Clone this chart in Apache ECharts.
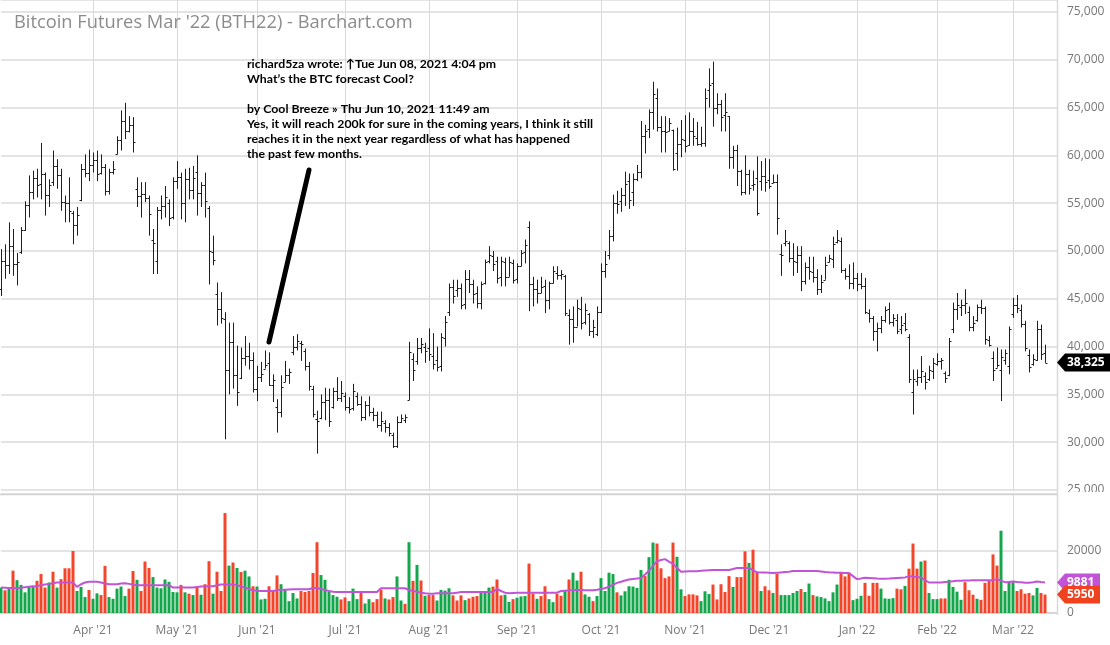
<!DOCTYPE html>
<html><head><meta charset="utf-8">
<script src="https://cdn.jsdelivr.net/npm/echarts@6/dist/echarts.min.js"></script>
<style>html,body{margin:0;padding:0;background:#fff}#c{width:1110px;height:645px}</style>
</head><body><div id="c"></div>
<script>
// ---------- calendar (CME trading days) ----------
const firstDay = '2021-03-01';
const lastDay = '2022-03-11';
const holidays = ['2021-04-02','2021-05-31','2021-07-05','2021-09-06','2021-11-25','2021-12-24','2022-01-17','2022-02-21'];
function tradingDays(a, b) {
  const out = [];
  const d = new Date(a + 'T00:00:00Z'), e = new Date(b + 'T00:00:00Z');
  while (d <= e) {
    const s = d.toISOString().slice(0, 10), w = d.getUTCDay();
    if (w !== 0 && w !== 6 && holidays.indexOf(s) < 0) out.push(s);
    d.setUTCDate(d.getUTCDate() + 1);
  }
  return out;
}
const dates = tradingDays(firstDay, lastDay);
const padSlots = 3;

// ---------- price bars (OHLC) ----------
const open = [46000,49000,48500,50500,48600,49900,52200,54800,56200,57600,57000,58000,55900,57200,58900,57900,55100,55000,54000,52700,
55300,58600,58200,59000,59500,58200,58800,56300,58300,60100,61600,63600,62600,63200,56500,55700,56000,55500,51200,49000,
54300,54700,55000,53600,57300,57700,55000,57500,56400,58300,56100,56900,54500,49900,45500,43900,42900,37500,40500,37000,
36700,38800,39000,38600,35600,36800,37700,38300,36000,33700,33200,36300,37000,39400,40000,40400,39500,38000,35600,32400,
32500,34200,34400,33700,35400,34600,34800,33700,33600,34800,34000,32600,33900,33200,32800,31800,32000,31600,30800,29600,
32100,32300,34400,38700,38500,39900,40000,39900,39000,38600,38000,40900,43600,46200,45900,46100,44500,47100,46500,45600,
44600,46600,49000,49500,49000,47300,48800,47300,48700,47100,48400,49900,52500,46500,46000,45600,46300,44900,46600,47700,
47500,47400,43300,42900,42100,43900,42600,43400,41600,41300,43600,47900,49600,51600,55000,55200,55900,57300,56200,57500,
58300,62000,62800,64500,66000,63000,62500,62600,62700,60200,61200,61600,61100,62600,61800,61200,61300,66800,67600,65000,
65400,64200,64100,59800,60600,58400,56200,58000,56900,57600,57300,57800,57400,57100,57200,49700,50800,50800,49300,48800,
49600,46900,48300,47800,47300,46000,47000,48800,49200,50900,51000,48000,47400,46600,47200,46500,46300,43500,43000,41600,
41900,42800,43900,42600,42800,41800,42500,41000,35200,36400,36800,36900,36600,37400,38200,38500,37200,37000,41800,43900,
44100,44300,43600,42000,42800,44100,44000,40700,38800,37800,37500,38600,38000,43400,44400,43800,42400,39100,38200,38600,
41800,39300];
const high = [50200,50700,53000,52300,49800,52500,55200,57900,58400,58600,61300,58200,57500,60500,59600,58600,55800,57700,54200,54600,
59100,60100,60600,60300,60500,60100,59100,58600,59400,62000,64700,65500,64100,64000,57700,57200,57200,55800,52300,54600,
55800,56800,55400,57700,59400,58200,58600,58700,58900,60000,57200,58200,54700,51600,46700,45700,43600,42500,42500,40100,
39900,41100,40400,39400,38000,38400,39600,39400,37100,34500,37000,38500,37700,41100,41300,40600,39800,38400,35900,33300,
35000,35700,35600,35700,36800,36400,35200,34700,36100,35200,34800,34300,34800,33600,33200,33200,32300,32000,31000,32700,
32900,32900,40500,39300,40900,40900,40400,41900,41400,40000,41400,43200,46600,47000,47000,46600,48000,48000,47000,46300,
46800,49100,50500,50000,49400,49400,49300,49400,49100,48700,50100,51200,53100,47300,47000,47300,47000,46800,48400,48400,
48000,47500,43900,44200,44900,45200,44500,43500,42800,44200,48700,50000,52200,55900,56300,56600,58300,58100,58100,59000,
63600,63200,64800,67700,67000,64100,64100,63900,62700,62900,63700,64200,64500,63900,63500,63000,67000,69100,69800,66500,
65800,66500,64100,61000,61100,58500,60000,58500,58400,59900,59400,59700,59600,58000,58000,50700,52200,51000,50800,50500,
50500,48800,49400,49400,48100,47500,49400,49600,51500,52200,51400,48200,48600,48800,47700,47700,47200,43900,43200,42500,
43200,44200,44600,43400,43400,43200,43500,41300,37600,37600,39000,37300,38000,38800,39300,38800,37400,40900,44600,45600,
44900,46000,44200,43200,44400,44900,44200,41100,39500,39900,39700,39700,42100,45100,45400,44400,42700,39700,39200,42700,
42300,40200];
const low = [45300,47100,47600,47400,46400,49700,52100,53500,55400,55600,55400,53700,54600,56800,56500,54200,53000,53000,50700,51600,
55200,57700,57300,58200,57300,58000,55800,55900,58000,60100,60500,61700,62400,60300,54600,53500,55100,51600,47600,47600,
53300,53500,52600,53300,56500,53300,53000,55400,55400,53700,54600,53500,46500,48500,42200,42400,30300,35000,35600,33800,
36600,38000,37600,35200,34300,36300,37700,35900,34200,31000,32600,36300,36100,39100,39600,38500,37500,35400,32600,28800,
32400,32300,31600,33500,34300,34200,33300,33000,33300,33800,32200,32300,32700,32200,31500,31100,31000,30600,29400,29400,
32000,32000,34400,36400,38100,39300,38300,38500,37600,37400,37400,40000,43200,44500,45200,43900,43900,45600,44500,44000,
43900,46500,48700,47900,46600,46300,46300,47300,46600,46600,48400,48700,43700,44200,44500,45600,43500,43900,46600,47000,
47000,43200,40200,40400,42100,41800,42300,41100,40900,41100,43500,47200,49100,51000,53900,54100,54700,54400,54700,57300,
57600,60200,61800,62700,62500,60300,60300,62500,58400,58400,59800,60300,61000,61000,61000,60900,60900,65000,63000,64300,
62500,62500,58600,58600,56800,55800,55900,55900,56300,53700,56300,56200,56500,57100,51700,47400,50500,48800,47400,47700,
45800,46500,47000,46700,45400,45600,47000,48800,48200,50800,47700,47000,46000,46000,45800,46000,43400,42500,40600,39500,
41400,42500,42300,42100,41300,41300,41600,36200,32900,35900,36200,35500,36400,36600,38000,37600,36200,36900,41400,42800,
43200,43400,41600,41600,42600,43400,40200,40000,36400,37800,34300,38100,37100,43000,43500,42000,39500,37300,38000,38500,
38600,38300];
const close = [49000,48500,50500,48600,48800,52200,54800,56200,57600,56900,58000,55900,56900,58900,57900,55100,55000,54200,52700,53800,
58600,58200,59000,59500,58000,58800,56300,58300,58600,61600,63600,62600,63200,61400,55700,56000,55500,53900,50800,54300,
54700,55600,53500,57300,57700,55000,57500,56400,57600,56100,56900,55200,50000,49100,43900,43000,37500,40500,37000,35200,
38800,39000,38600,35600,36800,37100,38100,36000,36500,33200,35800,37000,37300,40000,40600,40300,38000,35900,32900,32200,
34200,34400,32200,35400,34600,35100,33700,33500,35400,34000,32600,33900,33200,32800,31800,32200,31600,31000,29600,32100,
32500,32600,39400,37500,39900,40300,39500,39200,38200,37900,41000,42600,46200,45300,46100,44300,47100,46500,45500,44600,
46500,48800,49600,48600,47200,48900,47300,48800,47000,48400,49800,50600,46500,46000,45600,46200,44900,46600,47900,47500,
47600,43500,42900,42000,44000,42500,43800,41600,42100,43600,47900,48600,51600,55000,54900,55900,57000,55300,57500,58300,
62000,62600,64500,66400,63000,62500,62400,63400,58600,61200,61700,61000,62600,62000,61200,61300,66000,67400,65000,65400,
64000,64500,59800,60600,58400,56200,58000,56600,57000,54000,57800,57200,56800,57200,53500,49600,51000,49300,48900,49600,
46900,48300,47900,47300,46000,46800,48500,49300,50700,51200,48000,47400,46600,47200,46500,46300,43600,43000,41600,41900,
42800,43800,42600,43000,41600,42300,41800,36600,36600,36800,37400,36300,37500,38300,38500,38600,36700,40600,43900,44400,
44300,44600,42000,42500,44100,44000,40800,40200,37600,38100,38900,39300,41800,44400,44000,42400,39900,37900,38700,41800,
39200,38325];

// ---------- volume ----------
const volume = [8200,7320,7980,13660,10600,9070,6670,8420,8630,10380,12570,8200,9840,13330,8200,10930,14430,14430,20000,7100,
8420,5140,7430,4590,6340,5790,15190,5140,4590,7870,8530,5470,7870,13550,10710,7100,16610,14540,11590,8200,
7980,10820,10060,6780,6670,9070,6670,6230,5790,8630,5900,9290,16720,6230,13330,7100,32240,15300,16290,14540,
13230,13660,11800,8630,8530,4370,4590,8630,7100,12130,9290,7650,3830,6450,4700,7100,6780,7100,12900,22840,
12240,10710,6780,5790,5250,4370,5030,3830,7870,4480,6450,3060,4480,3500,4480,7540,4700,4370,5140,11800,
4040,2950,22840,10380,15520,10490,5570,5790,5790,4040,7430,7210,7980,5680,4040,5680,4150,4700,5250,5470,
6780,6780,8200,8530,10820,5680,5900,3610,4480,4920,5360,5470,15960,6230,4590,5470,8630,4480,3500,6230,
5570,7430,10820,13010,10490,13330,6010,5250,3830,5470,11260,7100,13010,12570,6670,5680,7000,8630,8530,8090,
13880,11910,18030,22730,22410,14430,11260,11800,22730,18140,7650,5470,6010,6010,5680,3830,7000,6120,9180,4370,
9290,6780,11910,8420,11590,11590,19890,16180,20440,13330,7100,8630,7320,6450,12680,5790,5790,5790,6450,7100,
7760,6780,9510,5790,5360,5140,4700,3830,6670,9180,12900,11800,12900,4150,4590,5570,9730,5570,9730,9730,
7870,4700,4590,4810,7870,7650,8740,14320,22410,14320,16610,16940,6450,4480,4480,4700,4700,10710,8420,6890,
4260,9950,7320,5900,4590,4260,9730,10380,18910,15300,26560,7100,10270,9950,7100,7650,6230,6450,5680,8090,
6450,5950];
// G = up day (green), R = down day (red)
const volumeDir = ('GRGRGGGGGR'+'RRGRGRRRRG'+'GGRGGRRGGG'+'GGRRGRRRGG'+'GGGGGRGRGR'+'GRRGRRRGRG'+'RGGRGGGRRR'+'GGGGGRRRRR'+
'GGGGGRRGGG'+'RGGRRRGRRG'+'GRGRGRGRRG'+'GGGRRRGRRR'+'GGGRRRGGRG'+'GGRRGRRGGR'+'RGRGGRGGRG'+'GGGGRGGGGG'+
'GRGGRRRRRG'+'GRRRRGGGRR'+'RRRGRRRGRR'+'GRRGRGGGGG'+'RGGRGGGGGG'+'RRRGGGRRRR'+'GGGGRRGRRR'+'GRGGGRRGGG'+
'GRRRGRRRRR'+'GGGGRRRRGG'+'RR').split('');
const volumeMA = [8200,8150,8100,8050,7980,8150,8300,8450,8600,8740,8960,9180,9400,9620,9840,9840,9840,9840,9840,8420,
9290,9840,10060,10060,10060,9840,9510,9290,9290,9290,9510,9620,9400,9180,8960,8960,8960,8960,8960,8960,
8960,8960,8960,8200,8200,8200,8200,8200,8200,8420,8530,8630,8630,8630,8960,9180,9180,9180,9180,8960,
8630,8200,7760,7320,7210,7100,7100,7100,7100,7320,7540,7540,7600,7650,7650,7650,7650,7650,8090,8090,
7760,7430,7100,6890,6780,6780,6780,6780,6780,6780,6780,6780,6780,6780,6780,7980,7980,7980,7980,7980,
7980,7980,7430,7100,6890,6560,6340,6230,6230,6340,6340,6340,6340,6340,6560,6780,6780,6780,6780,6780,
6780,6780,6780,6780,7760,7100,6560,6340,6450,6560,6560,6560,6560,6560,6560,6560,6560,6560,6560,6560,
7100,7200,7300,7400,7430,7400,7350,7320,7320,7500,7760,7980,8500,9100,9730,10100,10500,10820,11000,11100,
11260,12400,13660,15200,16720,17100,17380,16600,15850,14600,13330,13400,13440,13440,13500,13600,13700,13800,13880,13880,
13880,13880,13880,14200,14540,14540,14540,14540,13800,13120,13100,13050,13000,12900,13000,13100,13200,13300,13550,13550,
13550,13550,13550,13550,13550,13400,13250,13120,13100,13000,12950,12900,12900,11900,10930,11100,11370,11300,11200,11100,
11040,11040,11100,11200,11300,11400,11480,11910,11700,11600,11480,10600,9840,9840,9840,9840,10000,10100,10250,10380,
10420,10460,10500,10550,10600,10600,10600,10600,10600,10930,10400,9950,10000,10160,10000,9900,9800,9730,9900,10160,
10000,9881];

// ---------- axes ----------
const priceMin = 25000, priceMax = 76250, priceStep = 5000, priceTop = 75000;
const volMax = 38400, volStep = 20000;
const monthNames = ['Jan','Feb','Mar','Apr','May','Jun','Jul','Aug','Sep','Oct','Nov','Dec'];

// ---------- annotation (drawn trend stroke, in data space: bar index, price) ----------
const annotationLine = [[67.25, 40480], [76.5, 58470]];
const annotationText = [
  'richard5za wrote: \u2191Tue Jun 08, 2021 4:04 pm',
  'What\u2019s the BTC forecast Cool?',
  '',
  'by Cool Breeze \u00bb Thu Jun 10, 2021 11:49 am',
  'Yes, it will reach 200k for sure in the coming years, I think it still',
  'reaches it in the next year regardless of what has happened',
  'the past few months.'
];
const titleText = "Bitcoin Futures Mar '22 (BTH22) - Barchart.com";

// ---------- build ----------
const cats = dates.concat(Array.from({length: padSlots}, (_, k) => 'pad' + k));
function isMonthStart(idx) {
  if (idx <= 0 || idx >= dates.length) return false;
  return dates[idx].slice(5, 7) !== dates[idx - 1].slice(5, 7);
}
function monthLabel(v) {
  if (!/^\d{4}-/.test(v)) return '';
  return monthNames[+v.slice(5, 7) - 1] + " '" + v.slice(2, 4);
}
const GREEN = '#13a64b', RED = '#f2452a', PURPLE = '#c154d6', BAR = '#1e1e1e';
const gridLine = {color: '#e4e4e4', width: 2};
const vGridLine = {color: '#d9d9d9', width: 1};
const axisFont = {color: '#777', fontFamily: 'Open Sans', fontSize: 12};

const ohlcData = dates.map((d, i) => [i, open[i], high[i], low[i], close[i]]);

function renderOHLC(params, api) {
  const x = api.value(0);
  const o = api.coord([x, api.value(1)]);
  const h = api.coord([x, api.value(2)]);
  const l = api.coord([x, api.value(3)]);
  const c = api.coord([x, api.value(4)]);
  const cx = Math.round(h[0]) + 0.5;
  const st = {stroke: BAR, lineWidth: 1};
  return {type: 'group', children: [
    {type: 'line', shape: {x1: cx, y1: h[1], x2: cx, y2: l[1]}, style: st},
    {type: 'line', shape: {x1: cx - 2, y1: Math.round(o[1]) + 0.5, x2: cx, y2: Math.round(o[1]) + 0.5}, style: st},
    {type: 'line', shape: {x1: cx, y1: Math.round(c[1]) + 0.5, x2: cx + 2, y2: Math.round(c[1]) + 0.5}, style: st}
  ]};
}

const chart = echarts.init(document.getElementById('c'));
chart.setOption({
  animation: false,
  backgroundColor: '#fff',
  title: {text: titleText, left: 9, top: 9, textStyle: {color: '#8c8c8c', fontSize: 18.3, fontWeight: 'normal', fontFamily: 'Open Sans'}},
  grid: [
    {left: 1, right: 53, top: 0, height: 490},
    {left: 1, right: 53, top: 494, height: 119}
  ],
  xAxis: [
    {type: 'category', gridIndex: 0, data: cats, boundaryGap: false,
     axisLine: {show: false}, axisTick: {show: false}, axisLabel: {show: false},
     splitLine: {show: true, interval: isMonthStart, lineStyle: vGridLine}},
    {type: 'category', gridIndex: 1, data: cats, boundaryGap: false,
     axisLine: {show: true, lineStyle: {color: '#d6d6d6', width: 2}}, axisTick: {show: false},
     axisLabel: Object.assign({show: true, interval: isMonthStart, formatter: monthLabel, margin: 12}, axisFont),
     splitLine: {show: true, interval: isMonthStart, lineStyle: vGridLine}}
  ],
  yAxis: [
    {type: 'value', gridIndex: 0, position: 'right', min: priceMin, max: priceMax, interval: priceStep,
     axisLine: {show: false}, axisTick: {show: false}, splitLine: {show: true, lineStyle: gridLine},
     axisLabel: Object.assign({margin: 10, formatter: v => (v % priceStep === 0 && v <= priceTop) ? v.toLocaleString('en-US') : ''}, axisFont)},
    {type: 'value', gridIndex: 1, position: 'right', min: 0, max: volMax, interval: volStep,
     axisLine: {show: false}, axisTick: {show: false}, splitLine: {show: true, lineStyle: gridLine},
     axisLabel: Object.assign({margin: 10, formatter: v => (v % volStep === 0) ? String(v) : ''}, axisFont)}
  ],
  series: [
    {type: 'custom', name: 'BTH22', xAxisIndex: 0, yAxisIndex: 0, data: ohlcData,
     encode: {x: 0, y: [1, 2, 3, 4]}, renderItem: renderOHLC, z: 3},
    {type: 'bar', name: 'Volume', xAxisIndex: 1, yAxisIndex: 1, barWidth: 3,
     data: volume.map((v, i) => ({value: v, itemStyle: {color: volumeDir[i] === 'G' ? GREEN : RED}})), z: 2},
    {type: 'line', name: 'Volume MA', xAxisIndex: 1, yAxisIndex: 1, data: volumeMA, symbol: 'none',
     lineStyle: {color: PURPLE, width: 2}, z: 4},
    {type: 'line', name: 'annotation', xAxisIndex: 0, yAxisIndex: 0, data: annotationLine, symbol: 'none',
     lineStyle: {color: '#000', width: 5, cap: 'round'}, z: 5, silent: true}
  ]
});

// ---------- annotation text & price/volume tags ----------
const ctx = document.createElement('canvas').getContext('2d');
const annFont = 'bold 12px Lato';
ctx.font = annFont;
const annScale = 346 / ctx.measureText(annotationText[4]).width;

const last = dates.length - 1;
const yPrice = chart.convertToPixel({yAxisIndex: 0}, close[last]);
const yMA = chart.convertToPixel({yAxisIndex: 1}, volumeMA[last]);
const yVol = chart.convertToPixel({yAxisIndex: 1}, volume[last]);
const plotRight = chart.convertToPixel({xAxisIndex: 0}, cats.length - 1);

function tag(y, color, text, right) {
  return [
    {type: 'polygon', z: 100, shape: {points: [[plotRight, y], [plotRight + 8, y - 9], [right, y - 9], [right, y + 9], [plotRight + 8, y + 9]]}, style: {fill: color}},
    {type: 'text', z: 101, x: plotRight + 10, y: y, style: {text: text, fill: '#fff', font: 'bold 12px "Open Sans"', align: 'left', verticalAlign: 'middle'}}
  ];
}

chart.setOption({graphic: [
  {type: 'rect', z: 90, shape: {x: plotRight + 1, y: 492, width: 60, height: 20}, style: {fill: '#fff'}},
  {type: 'line', z: 91, shape: {x1: 0, y1: 494.5, x2: plotRight, y2: 494.5}, style: {stroke: '#d2d2d2', lineWidth: 1.5}},
  {type: 'line', z: 91, shape: {x1: plotRight + 0.5, y1: 0, x2: plotRight + 0.5, y2: 615}, style: {stroke: '#d9d9d9', lineWidth: 1.5}},
  {type: 'text', z: 50, x: 247, y: 57, scaleX: annScale,
   style: {text: annotationText.join('\n'), fill: '#000', font: annFont, lineHeight: 15, align: 'left', verticalAlign: 'top'}}
].concat(tag(yMA, PURPLE, String(volumeMA[last]), 1100))
 .concat(tag(yVol, '#f0421f', String(volume[last]), 1100))
 .concat(tag(yPrice, '#000', close[last].toLocaleString('en-US'), 1112))
});
</script>
</body></html>
